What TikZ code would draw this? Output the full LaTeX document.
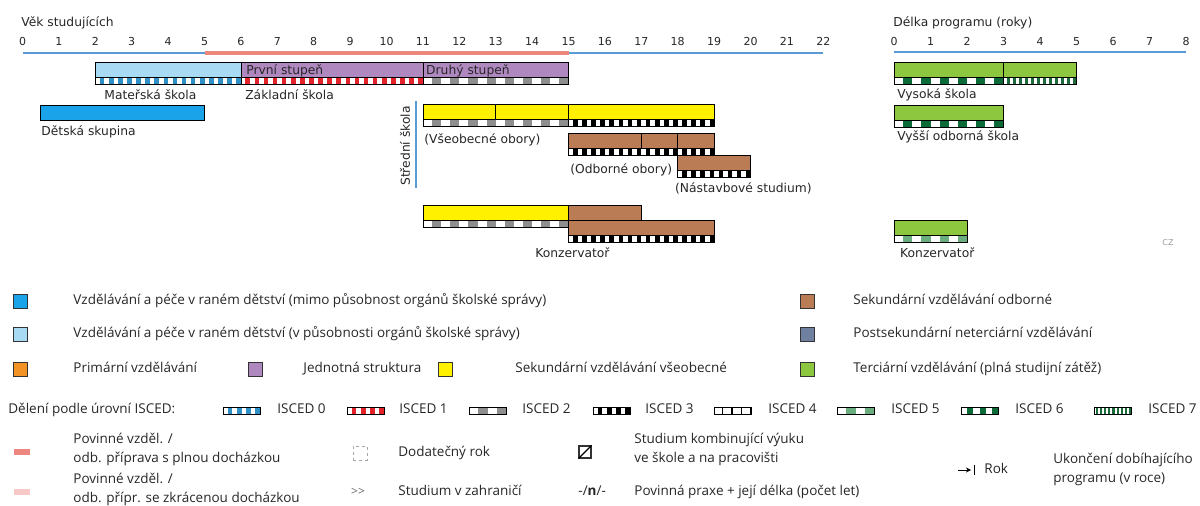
\documentclass[tikz,border=0pt]{standalone}
\usepackage{fontspec}
\setmainfont{DejaVu Sans}
\newfontfamily\legendfont{Open Sans}
\usetikzlibrary{arrows.meta}

\definecolor{axisblue}{HTML}{5B9BD5}
\definecolor{compred}{HTML}{EE8680}
\definecolor{comppink}{HTML}{F6C8C8}
\definecolor{eceout}{HTML}{1AA3E8}
\definecolor{ecein}{HTML}{A9DAF3}
\definecolor{primary}{HTML}{F39325}
\definecolor{single}{HTML}{B088C0}
\definecolor{secgen}{HTML}{FFF100}
\definecolor{secvoc}{HTML}{B97C54}
\definecolor{postsec}{HTML}{6F80A0}
\definecolor{tertiary}{HTML}{8DC63F}
\definecolor{iscedzero}{HTML}{2F8FC7}
\definecolor{iscedone}{HTML}{E2232A}
\definecolor{iscedtwo}{HTML}{8E8E8E}
\definecolor{iscedfive}{HTML}{6AAE80}
\definecolor{iscedsix}{HTML}{0B6B38}
\definecolor{iscedseven}{HTML}{1B6B3A}

\newcommand{\edubar}[4]{\filldraw[fill=#4, draw=black] (#1,#3) rectangle (#2,#3+15);}
\newcommand{\iscedstrip}[6][0.5]{%
  \begin{scope}
    \clip (#2,#4) rectangle (#3,#4+7);
    \fill[white] (#2,#4) rectangle (#3,#4+7);
    \pgfmathtruncatemacro{\nstrip}{(#3-#2)/#6}
    \foreach \i in {0,...,\nstrip}
      \fill[#5] ({#2+(\i+1-#1)*#6},#4) rectangle ({#2+(\i+1)*#6},#4+7);
  \end{scope}
  \draw (#2,#4) rectangle (#3,#4+7);
}

\begin{document}
\begin{tikzpicture}[x=1pt, y=-1pt, line width=0.8pt,
    lbl/.style={anchor=base west, inner sep=0pt, font=\fontsize{12.3}{14}\selectfont, text=black!85},
    agelabel/.style={anchor=base, inner sep=0pt, font=\fontsize{11}{13}\selectfont, text=black!85},
    axisline/.style={axisblue, line width=1.5pt},
    compline/.style={compred, line width=4pt},
    legkey/.style={draw=black!80, minimum size=14pt, inner sep=0pt},
    legtext/.style={anchor=west, inner sep=0pt, align=left, font=\legendfont\fontsize{13.5}{19}\selectfont, text=black!85,
      execute at begin node=\strut, execute at end node=\strut}]
  \useasboundingbox (0,0) rectangle (1200,506);

  \node[lbl] (vek) at (21,26) {Věk studujících};
  \node[lbl] (delka) at (893,26.5) {Délka programu (roky)};

  \begin{scope}[xshift=22.5pt, x=36.4pt]
    \draw[axisline] (0,53) -- (22,53);
    \draw[compline] (5,53) -- (15,53);
    \foreach \a in {0,...,22}
      \node[agelabel] (age\a) at (\a,45) {\a};

    \edubar{2}{6}{62}{ecein}
    \iscedstrip{2}{6}{77}{iscedzero}{0.25}
    \edubar{6}{15}{62}{single}
    \draw (11,62) -- (11,77);
    \iscedstrip{6}{11}{77}{iscedone}{0.25}
    \iscedstrip{11}{15}{77}{iscedtwo}{0.5}
    \node[lbl] (prvni) at (6.14,74) {První stupeň};
    \node[lbl] (druhy) at (11.08,74) {Druhý stupeň};
    \node[lbl] (materska) at (2.24,99) {Mateřská škola};
    \node[lbl] (zakladni) at (6.11,99) {Základní škola};

    \edubar{0.5}{5}{105}{eceout}
    \node[lbl] (detska) at (0.51,135) {Dětská skupina};

    \draw[axisblue, line width=1.2pt] (10.81,101) -- (10.81,188);
    \node[lbl, anchor=center, rotate=90] (stredni) at (10.51,146) {Střední škola};

    \edubar{11}{19}{104}{secgen}
    \draw (13,104) -- (13,119);
    \draw (15,104) -- (15,119);
    \iscedstrip{11}{15}{119}{iscedtwo}{0.5}
    \iscedstrip{15}{19}{119}{black}{0.25}
    \node[lbl] (vseob) at (11.03,143) {(Všeobecné obory)};

    \edubar{15}{19}{133}{secvoc}
    \draw (17,133) -- (17,148);
    \draw (18,133) -- (18,148);
    \iscedstrip{15}{19}{148}{black}{0.25}
    \node[lbl] (odbor) at (15.04,173) {(Odborné obory)};

    \edubar{18}{20}{155}{secvoc}
    \iscedstrip{18}{20}{170}{black}{0.25}
    \node[lbl] (nastavba) at (17.92,192) {(Nástavbové studium)};

    \edubar{11}{15}{205}{secgen}
    \iscedstrip{11}{15}{220}{iscedtwo}{0.5}
    \edubar{15}{17}{205}{secvoc}
    \edubar{15}{19}{220}{secvoc}
    \iscedstrip{15}{19}{235}{black}{0.25}
    \node[lbl] (konz) at (14.08,257) {Konzervatoř};
  \end{scope}

  \begin{scope}[xshift=894pt, x=36.5pt]
    \draw[axisline] (0,52) -- (8,52);
    \foreach \b in {0,...,8}
      \node[agelabel] (len\b) at (\b,45) {\b};

    \edubar{0}{5}{62}{tertiary}
    \draw (3,62) -- (3,77);
    \iscedstrip{0}{3}{77}{iscedsix}{0.5}
    \iscedstrip{3}{5}{77}{iscedseven}{0.1667}
    \node[lbl] (vysoka) at (0.08,98.5) {Vysoká škola};

    \edubar{0}{3}{105}{tertiary}
    \iscedstrip{0}{3}{120}{iscedsix}{0.5}
    \node[lbl] (vos) at (0.08,140) {Vyšší odborná škola};

    \edubar{0}{2}{220}{tertiary}
    \iscedstrip{0}{2}{235}{iscedfive}{0.5}
    \node[lbl] (konzr) at (0.16,257) {Konzervatoř};
  \end{scope}
  \node[font=\fontsize{8}{9}\selectfont, text=black!40] (cz) at (1168,243) {CZ};

  \node[legkey, fill=eceout] (k1) at (20,301) {};
  \node[legtext] (l1) at (73,301) {Vzdělávání a péče v raném dětství (mimo působnost orgánů školské správy)};
  \node[legkey, fill=ecein] (k2) at (20,334) {};
  \node[legtext] (l2) at (73,334) {Vzdělávání a péče v raném dětství (v působnosti orgánů školské správy)};
  \node[legkey, fill=primary] (k3) at (20,369) {};
  \node[legtext] (l3) at (73,369) {Primární vzdělávání};
  \node[legkey, fill=single] (k4) at (255,369) {};
  \node[legtext] (l4) at (303,369) {Jednotná struktura};
  \node[legkey, fill=secgen] (k5) at (445,369) {};
  \node[legtext] (l5) at (515,369) {Sekundární vzdělávání všeobecné};
  \node[legkey, fill=secvoc] (k6) at (807,301) {};
  \node[legtext] (l6) at (853,301) {Sekundární vzdělávání odborné};
  \node[legkey, fill=postsec] (k7) at (807,334) {};
  \node[legtext] (l7) at (853,334) {Postsekundární neterciární vzdělávání};
  \node[legkey, fill=tertiary] (k8) at (807,369) {};
  \node[legtext] (l8) at (853,369) {Terciární vzdělávání (plná studijní zátěž)};

  \node[legtext] (isced) at (8,410) {Dělení podle úrovní ISCED:};
  \iscedstrip{223}{260}{407}{iscedzero}{9.25}
  \node[legtext] (i0) at (277,410) {ISCED 0};
  \iscedstrip{347}{384}{407}{iscedone}{9.25}
  \node[legtext] (i1) at (399,410) {ISCED 1};
  \iscedstrip{469}{506}{407}{iscedtwo}{18.5}
  \node[legtext] (i2) at (522,410) {ISCED 2};
  \iscedstrip{593}{630}{407}{black}{9.25}
  \node[legtext] (i3) at (645,410) {ISCED 3};
  \iscedstrip[0.12]{714}{751}{407}{black}{9.25}
  \node[legtext] (i4) at (768,410) {ISCED 4};
  \iscedstrip{837}{874}{407}{iscedfive}{18.5}
  \node[legtext] (i5) at (891,410) {ISCED 5};
  \iscedstrip{961}{998}{407}{iscedsix}{12.33}
  \node[legtext] (i6) at (1015,410) {ISCED 6};
  \iscedstrip{1094}{1131}{407}{iscedseven}{4.1}
  \node[legtext] (i7) at (1148,410) {ISCED 7};

  \node[legkey, draw=none, fill=compred, minimum width=16pt, minimum height=6pt] (kc1) at (22,452) {};
  \node[legtext] (lc1) at (73,450.5) {Povinné vzděl. /\\odb. příprava s plnou docházkou};
  \node[legkey, draw=none, fill=comppink, minimum width=16pt, minimum height=6pt] (kc2) at (22,492) {};
  \node[legtext] (lc2) at (73,490.5) {Povinné vzděl. /\\odb. přípr. se zkrácenou docházkou};

  \node[legkey, draw=black!35, dashed, line width=0.6pt] (kd) at (360,453) {};
  \node[legtext] (ld) at (398,453) {Dodatečný rok};
  \node[font=\legendfont\fontsize{12}{14}\selectfont, text=black!60] (kz) at (358,492) {>>};
  \node[legtext] (lz) at (398,492) {Studium v zahraničí};

  \node[legkey, line width=1.2pt, minimum size=12pt] (kw) at (585,452) {};
  \draw[line width=1.2pt] (kw.south west) -- (kw.north east);
  \node[legtext] (lw) at (634,450.5) {Studium kombinující výuku\\ve škole a na pracovišti};
  \node[legtext] (kp) at (578,492) {-/\textbf{n}/-};
  \node[legtext] (lp) at (634,492) {Povinná praxe + její délka (počet let)};

  \coordinate (ra) at (958,470);
  \coordinate (rb) at (971,470);
  \coordinate (rt) at (974.5,465);
  \coordinate (rs) at (974.5,475);
  \draw[-{Stealth[length=5pt, width=5pt]}, line width=1pt] (ra) -- (rb);
  \draw[line width=1.5pt] (rt) -- (rs);
  \node[legtext] (rok) at (984,470) {Rok};
  \node[legtext] (ukon) at (1053,470.5) {Ukončení dobíhajícího\\programu (v roce)};
\end{tikzpicture}
\end{document}
